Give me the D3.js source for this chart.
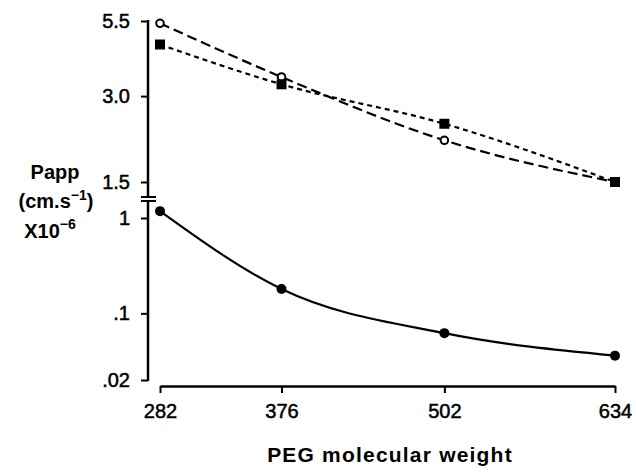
<!DOCTYPE html>
<html><head><meta charset="utf-8">
<script src="https://cdn.jsdelivr.net/npm/d3@7"></script>
<style>body{margin:0;background:#fff}svg{display:block}text{font-family:"Liberation Sans",Arial,sans-serif;fill:#000}</style>
</head><body><svg id="c" width="636" height="473"></svg>
<script>
const mw = [282, 376, 502, 634];
const openCircle = [5.4, 3.5, 2.1, 1.5];
const filledSquare = [4.55, 3.3, 2.4, 1.5];
const filledCircle = [1.18, 0.18, 0.062, 0.036];
const upperTicks = [5.5, 3.0, 1.5];
const upperLabels = ["5.5", "3.0", "1.5"];
const lowerTicks = [1, 0.1, 0.02];
const lowerLabels = ["1", ".1", ".02"];
const xTicks = [282, 376, 502, 634];

const svg = d3.select("#c");
const x = d3.scaleLinear().domain([282, 634]).range([160, 615]);
const yU = d3.scaleLog().domain([1.5, 5.5]).range([182, 21]);
const yL = d3.scaleLog().domain([0.02, 1]).range([380, 218]);
const AX = 148, SW = 2.5;
const FONT = "Liberation Sans, Arial, sans-serif";

svg.append("line").attr("x1", AX).attr("x2", AX).attr("y1", 20).attr("y2", 197).attr("stroke", "#000").attr("stroke-width", SW);
svg.append("line").attr("x1", AX).attr("x2", AX).attr("y1", 201).attr("y2", 381).attr("stroke", "#000").attr("stroke-width", SW);
[197, 201].forEach(yy => svg.append("line").attr("x1", 141).attr("x2", 156).attr("y1", yy).attr("y2", yy).attr("stroke", "#000").attr("stroke-width", 2));

function styleText(sel) {
  sel.attr("font-size", 20).attr("font-family", FONT).attr("fill", "#000")
    .attr("stroke", "#000").attr("stroke-width", 0.5);
}
function yAxis(scale, ticks, labels) {
  const g = svg.append("g").attr("transform", `translate(${AX},0)`)
    .call(d3.axisLeft(scale).tickValues(ticks).tickFormat((d, i) => labels[i]).tickSize(7).tickPadding(11).tickSizeOuter(0));
  g.select(".domain").remove();
  g.selectAll(".tick line").attr("stroke-width", 2);
  styleText(g.selectAll(".tick text"));
}
yAxis(yU, upperTicks, upperLabels);
yAxis(yL, lowerTicks, lowerLabels);

const gx = svg.append("g").attr("transform", "translate(0,386)")
  .call(d3.axisBottom(x).tickValues(xTicks).tickFormat(d3.format("d")).tickSize(7).tickPadding(11).tickSizeOuter(0));
gx.select(".domain").attr("stroke-width", SW);
gx.selectAll(".tick line").attr("stroke-width", 2);
styleText(gx.selectAll(".tick text"));

const curve = d3.curveMonotoneX;
function line(vals, scale) {
  return d3.line().x((d, i) => x(mw[i])).y(d => scale(d)).curve(curve)(vals);
}
svg.append("path").attr("d", line(openCircle, yU)).attr("fill", "none").attr("stroke", "#000").attr("stroke-width", 2.2).attr("stroke-dasharray", "10,5");
svg.append("path").attr("d", line(filledSquare, yU)).attr("fill", "none").attr("stroke", "#000").attr("stroke-width", 2.2).attr("stroke-dasharray", "5,4");
svg.append("path").attr("d", line(filledCircle, yL)).attr("fill", "none").attr("stroke", "#000").attr("stroke-width", 2.2);

svg.selectAll(".oc").data(openCircle).enter().append("circle")
  .attr("cx", (d, i) => x(mw[i])).attr("cy", d => yU(d)).attr("r", 3.8).attr("fill", "#fff").attr("stroke", "#000").attr("stroke-width", 2);
svg.selectAll(".sq").data(filledSquare).enter().append("rect")
  .attr("x", (d, i) => x(mw[i]) - 5).attr("y", d => yU(d) - 5).attr("width", 10).attr("height", 10).attr("fill", "#000");
svg.selectAll(".fc").data(filledCircle).enter().append("circle")
  .attr("cx", (d, i) => x(mw[i])).attr("cy", d => yL(d)).attr("r", 5).attr("fill", "#000");

const lab = svg.append("g").attr("font-size", 20).attr("font-weight", "bold");
lab.append("text").attr("x", 55).attr("y", 179).attr("text-anchor", "middle").text("Papp");
const t2 = lab.append("text").attr("x", 56).attr("y", 208).attr("text-anchor", "middle");
t2.append("tspan").text("(cm.s");
t2.append("tspan").attr("dy", -8).attr("font-size", 14).text("\u22121");
t2.append("tspan").attr("dy", 8).text(")");
const t3 = lab.append("text").attr("x", 50).attr("y", 238).attr("text-anchor", "middle");
t3.append("tspan").text("X10");
t3.append("tspan").attr("dy", -9).attr("font-size", 14).text("\u22126");

svg.append("text").attr("x", 390).attr("y", 462).attr("text-anchor", "middle").attr("font-size", 21).attr("font-weight", "bold").attr("letter-spacing", 1.2).text("PEG molecular weight");
</script></body></html>
